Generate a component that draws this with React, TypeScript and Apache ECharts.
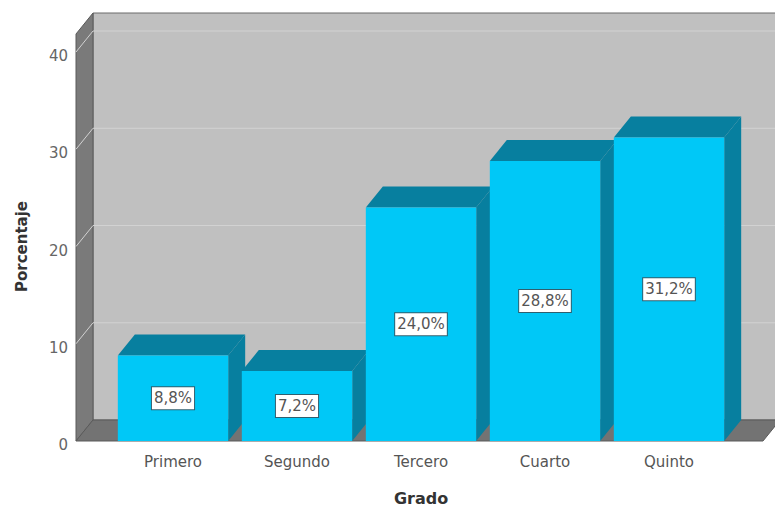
import React, { useEffect, useRef } from "react";
import * as echarts from "echarts";

const categories = ["Primero", "Segundo", "Tercero", "Cuarto", "Quinto"];
const values = [8.8, 7.2, 24.0, 28.8, 31.2];
const labels = ["8,8%", "7,2%", "24,0%", "28,8%", "31,2%"];
const yTicks = [0, 10, 20, 30, 40];

const DX = 17;
const DY = 21;
const FONT = '"DejaVu Sans", Arial, sans-serif';

export default function App() {
  const ref = useRef<HTMLDivElement>(null);
  useEffect(() => {
    if (!ref.current) return;
    const chart = echarts.init(ref.current, null, { renderer: "svg" });
    const option: any = {
      animation: false,
      backgroundColor: "#ffffff",
      grid: { left: 111, right: 44, top: 52, bottom: 69 },
      xAxis: {
        type: "category",
        data: categories,
        axisLine: { show: false },
        axisTick: { show: false },
        axisLabel: { color: "#555", fontSize: 15, fontFamily: FONT, margin: 13 },
        name: "Grado",
        nameLocation: "middle",
        nameGap: 49,
        nameTextStyle: { color: "#333", fontSize: 16, fontWeight: "bold", fontFamily: FONT },
        z: 10,
      },
      yAxis: {
        type: "value",
        min: 0,
        max: 40,
        interval: 10,
        offset: 35,
        axisLine: { show: false },
        axisTick: { show: false },
        splitLine: { show: false },
        axisLabel: {
          color: "#666",
          fontSize: 15,
          fontFamily: FONT,
          margin: 8,
          verticalAlign: "top",
          lineHeight: 8,
        },
        name: "Porcentaje",
        nameLocation: "middle",
        nameGap: 47,
        nameTextStyle: { color: "#333", fontSize: 15, fontWeight: "bold", fontFamily: FONT },
      },
      series: [
        {
          type: "custom",
          name: "walls",
          clip: false,
          silent: true,
          z: 1,
          data: [[0, 0]],
          renderItem: (params: any, api: any) => {
            const cs = params.coordSys;
            const fl = cs.x - 35; // front-left x
            const fr = cs.x + cs.width + 32; // front-right x
            const fb = api.coord([0, 0])[1]; // front-bottom y
            const ft = cs.y - 18; // front-top y
            const children: any[] = [];
            children.push({
              type: "polygon",
              shape: { points: [[fl + DX, ft - DY], [fr + DX, ft - DY], [fr + DX, fb - DY], [fl + DX, fb - DY]] },
              style: { fill: "#c0c0c0", stroke: "#6a6a6a", lineWidth: 1 },
            });
            children.push({
              type: "polygon",
              shape: { points: [[fl, ft], [fl + DX, ft - DY], [fl + DX, fb - DY], [fl, fb]] },
              style: { fill: "#7a7a7a", stroke: "#5a5a5a", lineWidth: 1 },
            });
            children.push({
              type: "polygon",
              shape: { points: [[fl, fb], [fl + DX, fb - DY], [fr + DX, fb - DY], [fr, fb]] },
              style: { fill: "#737373", stroke: "#5a5a5a", lineWidth: 1 },
            });
            yTicks.forEach((t) => {
              if (t === 0) return;
              const y = api.coord([0, t])[1];
              children.push({
                type: "polyline",
                shape: { points: [[fl, y], [fl + DX, y - DY], [fr + DX, y - DY]] },
                style: { stroke: "#d2d2d2", lineWidth: 1, fill: "none" },
              });
            });
            return { type: "group", children };
          },
        },
        {
          type: "custom",
          name: "Porcentaje",
          clip: false,
          z: 5,
          data: values.map((v, i) => [i, v]),
          renderItem: (params: any, api: any) => {
            const idx = api.value(0);
            const val = api.value(1);
            const base = api.coord([idx, 0]);
            const top = api.coord([idx, val]);
            const w = api.size([1, 0])[0] * 0.89;
            const x0 = base[0] - w / 2;
            const x1 = base[0] + w / 2;
            const yt = top[1];
            const yb = base[1];
            const dark = "#077f9f";
            return {
              type: "group",
              children: [
                {
                  type: "polygon",
                  shape: { points: [[x1, yt], [x1 + DX, yt - DY], [x1 + DX, yb - DY], [x1, yb]] },
                  style: { fill: dark },
                },
                {
                  type: "polygon",
                  shape: { points: [[x0, yt], [x0 + DX, yt - DY], [x1 + DX, yt - DY], [x1, yt]] },
                  style: { fill: dark },
                },
                {
                  type: "rect",
                  shape: { x: x0, y: yt, width: w, height: yb - yt },
                  style: { fill: "#00c8f7" },
                },
                {
                  type: "text",
                  x: base[0],
                  y: (yt + yb) / 2,
                  style: {
                    text: labels[params.dataIndex],
                    fill: "#555",
                    fontSize: 15,
                    fontFamily: FONT,
                    align: "center",
                    verticalAlign: "middle",
                    backgroundColor: "#ffffff",
                    borderColor: "#2f5f6f",
                    borderWidth: 1,
                    padding: [4, 2, 3, 2],
                  },
                },
              ],
            };
          },
        },
      ],
    };
    chart.setOption(option);
    return () => chart.dispose();
  }, []);
  return <div ref={ref} style={{ width: 775, height: 511, position: "absolute", left: 0, top: 0 }} />;
}
